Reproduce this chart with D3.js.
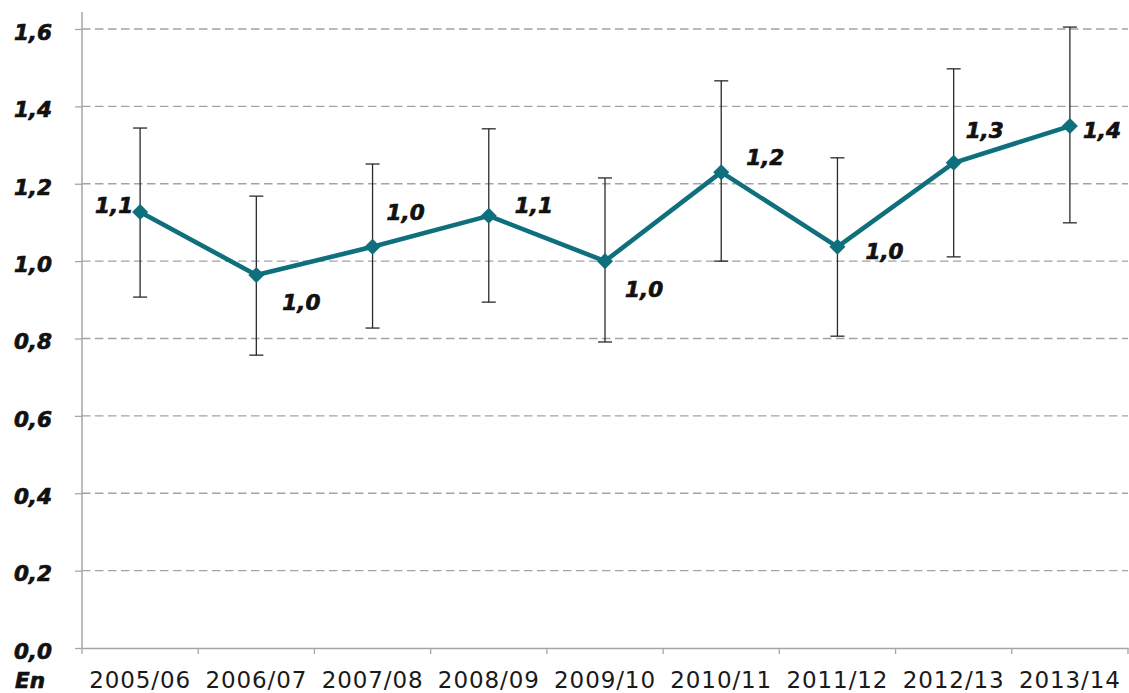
<!DOCTYPE html>
<html>
<head>
<meta charset="utf-8">
<script src="https://cdn.jsdelivr.net/npm/d3@7"></script>
<style>
  html, body { margin: 0; padding: 0; background: #fff; }
  svg { display: block; }
</style>
</head>
<body>
<svg id="chart" width="1129" height="693"></svg>
<script>
// ---- data ----
const categories = ["2005/06","2006/07","2007/08","2008/09","2009/10","2010/11","2011/12","2012/13","2013/14"];
const values     = [1.127, 0.964, 1.037, 1.117, 1.000, 1.230, 1.037, 1.254, 1.349];
const upper      = [1.344, 1.168, 1.251, 1.342, 1.215, 1.466, 1.267, 1.497, 1.605];
const lower      = [0.907, 0.757, 0.827, 0.894, 0.791, 1.000, 0.806, 1.011, 1.099];
const labels     = ["1,1","1,0","1,0","1,1","1,0","1,2","1,0","1,3","1,4"];
const yTicks     = [0, 0.2, 0.4, 0.6, 0.8, 1.0, 1.2, 1.4, 1.6];
const yTickLabels= ["0,0","0,2","0,4","0,6","0,8","1,0","1,2","1,4","1,6"];
const unitLabel  = "En";

// label placement (layout only): [anchor, dx, dy] relative to point
const labelPlacement = [
  ["end", -7, 1], ["start", 26, 35], ["start", 14, -27], ["start", 26, -3], ["start", 20, 36],
  ["start", 25, -7], ["start", 28, 12], ["start", 12, -25], ["start", 13, 12]
];

// ---- layout ----
const svg = d3.select("#chart");
const mLeft = 82, mRight = 1128, mTop = 29, mBottom = 648;
const teal = "#0f6f7d";

const x = d3.scaleBand().domain(categories).range([mLeft, mRight]).padding(0);
const y = d3.scaleLinear().domain([0, 1.6]).range([mBottom, mTop]);
const cx = d => x(d) + x.bandwidth() / 2;

function boldItalic(sel) {
  sel.attr("font-family", "DejaVu Sans").attr("font-weight", "bold").attr("font-style", "italic")
     .attr("font-size", "21.5px").attr("fill", "#111")
     .attr("stroke", "#111").attr("stroke-width", 0.7).attr("paint-order", "stroke");
}

// gridlines
svg.append("g").selectAll("line")
  .data(yTicks.filter(t => t > 0))
  .join("line")
  .attr("x1", mLeft).attr("x2", mRight)
  .attr("y1", d => y(d)).attr("y2", d => y(d))
  .attr("stroke", "#a3a3a3").attr("stroke-width", 1.3)
  .attr("stroke-dasharray", "8.5,4.5");

// y axis
const yAxis = d3.axisLeft(y).tickValues(yTicks).tickSize(7)
  .tickFormat((d, i) => yTickLabels[i]);
const gy = svg.append("g").attr("transform", `translate(${mLeft},0)`).call(yAxis);
gy.select(".domain").remove();
gy.selectAll(".tick line").attr("stroke", "#a6a6a6").attr("stroke-width", 1.3);
gy.selectAll(".tick text")
  .attr("x", -30).attr("dy", "0.48em")
  .call(boldItalic);
svg.append("line").attr("x1", mLeft).attr("x2", mLeft).attr("y1", 12).attr("y2", mBottom)
  .attr("stroke", "#a6a6a6").attr("stroke-width", 1.5);

// x axis
const xAxis = d3.axisBottom(x).tickSize(0).tickSizeOuter(0);
const gx = svg.append("g").attr("transform", `translate(0,${mBottom})`).call(xAxis);
gx.select(".domain").attr("stroke", "#a6a6a6").attr("stroke-width", 1.5);
gx.selectAll(".tick text")
  .attr("y", 40).attr("dy", 0)
  .attr("font-family", "DejaVu Sans").attr("font-size", "23px")
  .attr("letter-spacing", "0.9px").attr("fill", "#1a1a1a");
// category boundary ticks
svg.append("g").selectAll("line")
  .data(categories.map((c, i) => i).concat([categories.length]))
  .join("line")
  .attr("x1", i => i < categories.length ? x(categories[i]) : mRight)
  .attr("x2", i => i < categories.length ? x(categories[i]) : mRight)
  .attr("y1", mBottom).attr("y2", mBottom + 6)
  .attr("stroke", "#a6a6a6").attr("stroke-width", 1.3);

// unit label
svg.append("text").attr("x", 15).attr("y", 688).text(unitLabel).call(boldItalic);

// error bars
const eb = svg.append("g").attr("stroke", "#2a2a2a").attr("stroke-width", 1.3);
categories.forEach((c, i) => {
  const px = cx(c);
  eb.append("line").attr("x1", px).attr("x2", px).attr("y1", y(upper[i])).attr("y2", y(lower[i]));
  eb.append("line").attr("x1", px - 7).attr("x2", px + 7).attr("y1", y(upper[i])).attr("y2", y(upper[i]));
  eb.append("line").attr("x1", px - 7).attr("x2", px + 7).attr("y1", y(lower[i])).attr("y2", y(lower[i]));
});

// line
const line = d3.line().x((d, i) => cx(categories[i])).y(d => y(d));
svg.append("path").datum(values).attr("d", line)
  .attr("fill", "none").attr("stroke", teal).attr("stroke-width", 4.6)
  .attr("stroke-linejoin", "round");

// markers
const diamond = d3.symbol().type(d3.symbolSquare).size(128);
svg.append("g").selectAll("path")
  .data(values).join("path")
  .attr("d", diamond)
  .attr("transform", (d, i) => `translate(${cx(categories[i])},${y(d)}) rotate(45)`)
  .attr("fill", teal);

// data labels
svg.append("g").selectAll("text")
  .data(values).join("text")
  .attr("x", (d, i) => cx(categories[i]) + labelPlacement[i][1])
  .attr("y", (d, i) => y(d) + labelPlacement[i][2])
  .attr("text-anchor", (d, i) => labelPlacement[i][0])
  .text((d, i) => labels[i])
  .call(boldItalic);
</script>
</body>
</html>
